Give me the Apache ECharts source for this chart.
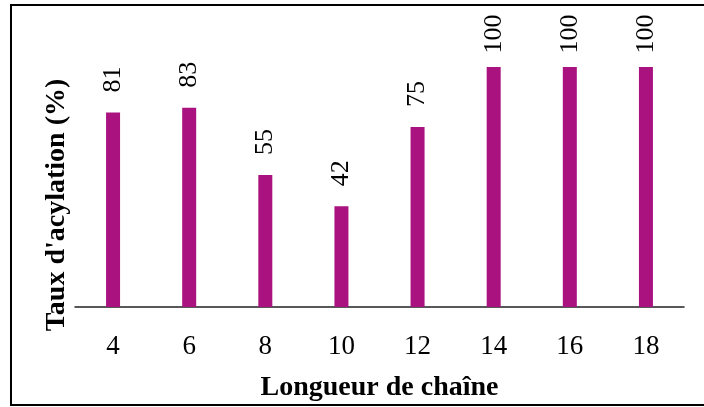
<!DOCTYPE html>
<html>
<head>
<meta charset="utf-8">
<script src="https://cdn.jsdelivr.net/npm/echarts@6/dist/echarts.min.js"></script>
<style>
  html, body { margin: 0; padding: 0; background: #fff; }
  #chart { width: 704px; height: 407px; }
</style>
</head>
<body>
<div id="chart"></div>
<script>
// Chain length (carbon count) and acylation yield in percent
const chainLengths = ['4', '6', '8', '10', '12', '14', '16', '18'];
const acylationRates = [81, 83, 55, 42, 75, 100, 100, 100];

const xTitle = 'Longueur de chaîne';
const yTitle = "Taux d'acylation (%)";

const serif = '"Liberation Serif", "DejaVu Serif", serif';

const chart = echarts.init(document.getElementById('chart'), null, { renderer: 'canvas' });

chart.setOption({
  animation: false,
  backgroundColor: '#fff',
  grid: { left: 75, right: 20, top: 67, bottom: 100 },
  xAxis: {
    type: 'category',
    data: chainLengths,
    axisLine: { show: true, lineStyle: { color: '#222', width: 1.5 } },
    axisTick: { show: false },
    axisLabel: { color: '#000', fontFamily: serif, fontSize: 27, margin: 26 },
    name: xTitle,
    nameLocation: 'middle',
    nameGap: 67,
    nameTextStyle: { color: '#000', fontFamily: serif, fontSize: 28, fontWeight: 'bold' }
  },
  yAxis: {
    type: 'value',
    min: 0,
    max: 100,
    show: false,
    splitLine: { show: false }
  },
  series: [{
    type: 'bar',
    data: acylationRates,
    barWidth: 14,
    itemStyle: { color: '#A9127F' },
    label: {
      show: true,
      position: 'top',
      distance: 33,
      rotate: 90,
      align: 'center',
      verticalAlign: 'middle',
      color: '#000',
      fontFamily: serif,
      fontSize: 26
    }
  }],
  graphic: [
    {
      type: 'rect',
      shape: { x: 11, y: 5, width: 700, height: 400 },
      style: { fill: 'none', stroke: '#000', lineWidth: 2 },
      silent: true
    },
    {
      type: 'text',
      x: 57,
      y: 205,
      rotation: Math.PI / 2,
      style: {
        text: yTitle,
        fill: '#000',
        font: 'bold 28px ' + serif,
        align: 'center',
        verticalAlign: 'middle'
      }
    }
  ]
});
</script>
</body>
</html>
